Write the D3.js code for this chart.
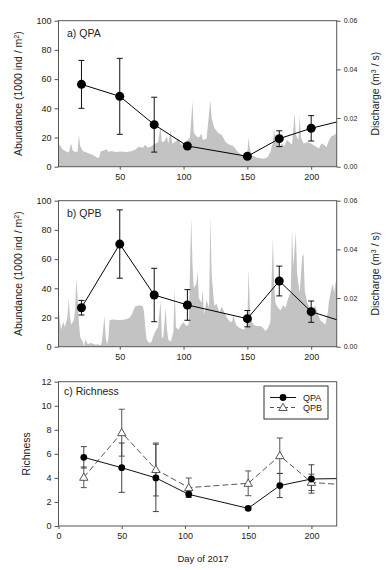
<!DOCTYPE html>
<html>
<head>
<meta charset="utf-8">
<script src="https://cdn.jsdelivr.net/npm/d3@7"></script>
<style>
  body { margin: 0; background: #fff; }
  svg text { font-family: "Liberation Sans", Arial, sans-serif; fill: #222; }
</style>
</head>
<body>
<div id="chart"></div>
<script>
// sampling days (last entry = where the line leaves the plot)
const sampleDays = [20, 50, 77, 103, 150, 175, 200, 220];

// abundance (1000 ind / m2), mean and +/- error
const abundQPA = [56.4, 48.2, 28.8, 14.2, 7.1, 19.2, 26.3, 30.6];
const abundQPAErr = [16.4, 26.0, 18.8, 1.5, 0.8, 5.4, 8.7, null];
const abundQPB = [26.7, 70.3, 35.4, 28.6, 19.2, 45.0, 24.0, 18.5];
const abundQPBErr = [5.0, 23.4, 18.3, 10.5, 5.6, 10.2, 7.3, null];

// richness
const richQPA = [5.71, 4.85, 4.0, 2.63, 1.47, 3.36, 3.91, 3.94];
const richQPAErr = [0.89, 2.05, 2.8, 0.25, 0.15, 1.0, 1.18, null];
const richQPB = [4.05, 7.76, 4.7, 3.19, 3.55, 5.85, 3.63, 3.47];
const richQPBErr = [0.86, 1.95, 2.2, 0.8, 1.03, 1.47, 0.68, null];

// daily discharge (m3/s), [day, value]
const dischargeQPA = [
  [1,0.0080],[3,0.0090],[5,0.0072],[8,0.0062],[10,0.0058],[12,0.0096],[13,0.0068],[15,0.0060],
  [17,0.0062],[18,0.0130],[19,0.0085],[21,0.0065],[24,0.0058],[27,0.0052],[30,0.0045],[33,0.0035],
  [34,0.0040],[35,0.0062],[38,0.0068],[40,0.0072],[41,0.0060],[43,0.0065],[47,0.0060],[51,0.0062],
  [55,0.0060],[59,0.0064],[62,0.0070],[65,0.0082],[68,0.0078],[70,0.0090],[72,0.0078],[75,0.0085],
  [78,0.0095],[80,0.0100],[82,0.0165],[83,0.0100],[85,0.0105],[87,0.0125],[88,0.0095],[90,0.0150],
  [91,0.0095],[93,0.0100],[96,0.0115],[98,0.0090],[100,0.0095],[103,0.0108],[105,0.0120],[107,0.0270],
  [108,0.0140],[110,0.0125],[112,0.0120],[114,0.0135],[115,0.0110],[118,0.0115],[120,0.0220],[121,0.0272],
  [122,0.0200],[124,0.0160],[127,0.0140],[130,0.0130],[133,0.0100],[136,0.0090],[139,0.0085],[142,0.0065],
  [145,0.0050],[148,0.0040],[150,0.0060],[151,0.0120],[152,0.0070],[154,0.0045],[157,0.0038],[160,0.0035],
  [163,0.0033],[166,0.0040],[168,0.0060],[170,0.0100],[171,0.0155],[172,0.0110],[174,0.0120],[175,0.0080],
  [177,0.0095],[179,0.0085],[181,0.0110],[183,0.0100],[185,0.0090],[187,0.0220],[188,0.0130],[190,0.0110],
  [191,0.0210],[192,0.0120],[194,0.0095],[197,0.0100],[200,0.0095],[203,0.0085],[206,0.0075],[208,0.0095],
  [210,0.0090],[212,0.0080],[214,0.0110],[216,0.0125],[218,0.0130],[220,0.0140]
];
const dischargeQPB = [
  [1,0.0175],[2,0.0170],[3,0.0110],[4,0.0070],[5,0.0090],[6,0.0100],[7,0.0080],[9,0.0120],
  [10,0.0200],[11,0.0120],[12,0.0090],[14,0.0110],[15,0.0150],[16,0.0282],[17,0.0200],[18,0.0100],
  [19,0.0040],[21,0.0020],[22,0.0002],[23,0.0030],[25,0.0010],[27,0.0015],[29,0.0012],[31,0.0008],
  [33,0.0010],[35,0.0005],[36,0.0020],[38,0.0125],[39,0.0040],[40,0.0008],[41,0.0030],[42,0.0110],
  [45,0.0112],[48,0.0110],[51,0.0110],[54,0.0112],[56,0.0115],[58,0.0120],[60,0.0140],[62,0.0165],
  [64,0.0168],[66,0.0170],[68,0.0165],[69,0.0145],[70,0.0080],[71,0.0030],[73,0.0015],[75,0.0020],
  [76,0.0040],[78,0.0065],[80,0.0080],[82,0.0190],[83,0.0040],[84,0.0035],[86,0.0160],[87,0.0070],
  [88,0.0030],[90,0.0020],[92,0.0060],[93,0.0240],[94,0.0080],[96,0.0070],[98,0.0090],[100,0.0100],
  [102,0.0085],[104,0.0090],[106,0.0530],[107,0.0340],[108,0.0240],[110,0.0260],[111,0.0310],[112,0.0200],
  [114,0.0180],[115,0.0230],[116,0.0130],[118,0.0190],[120,0.0160],[121,0.0536],[122,0.0300],[124,0.0170],
  [126,0.0175],[128,0.0140],[130,0.0165],[132,0.0140],[134,0.0120],[136,0.0105],[138,0.0100],[139,0.0130],
  [141,0.0090],[143,0.0080],[145,0.0075],[147,0.0070],[149,0.0080],[150,0.0110],[151,0.0320],[152,0.0150],
  [153,0.0110],[155,0.0090],[157,0.0085],[160,0.0085],[162,0.0080],[164,0.0065],[166,0.0075],[168,0.0100],
  [170,0.0447],[171,0.0250],[172,0.0180],[174,0.0160],[176,0.0150],[178,0.0170],[180,0.0160],[182,0.0200],
  [184,0.0220],[185,0.0485],[186,0.0330],[188,0.0470],[189,0.0300],[191,0.0220],[193,0.0370],[194,0.0380],
  [195,0.0230],[197,0.0180],[199,0.0160],[201,0.0140],[203,0.0170],[205,0.0140],[207,0.0110],[209,0.0100],
  [211,0.0090],[213,0.0140],[214,0.0190],[216,0.0240],[217,0.0260],[218,0.0220],[219,0.0260],[220,0.0280]
];

const abundTicks = [0, 20, 40, 60, 80, 100];
const dischargeTicks = [0, 0.02, 0.04, 0.06];
const richTicks = [0, 2, 4, 6, 8, 10, 12];
const dayTicksAB = [50, 100, 150, 200];
const dayTicksC = [0, 50, 100, 150, 200];

// layout
const W = 392, H = 570;
const plotLeft = 58.5, plotRight = 336.7;
const panels = {
  a: { top: 20.7, bottom: 166.7 },
  b: { top: 200.7, bottom: 346.7 },
  c: { top: 381.7, bottom: 526 },
};
const frameColor = "#555";
const areaColor = "#c3c3c3";

const svg = d3.select("#chart").append("svg")
  .attr("width", W).attr("height", H)
  .style("background", "#fff");

const xAB = d3.scaleLinear().domain([2, 220]).range([plotLeft, plotRight]);
const xC = d3.scaleLinear().domain([0, 220]).range([plotLeft, plotRight]);

drawAbundancePanel("a", panels.a, "a) QPA", abundQPA, abundQPAErr, dischargeQPA);
drawAbundancePanel("b", panels.b, "b) QPB", abundQPB, abundQPBErr, dischargeQPB);
drawRichnessPanel(panels.c);

function addClip(id, p) {
  svg.append("clipPath").attr("id", id)
    .append("rect")
    .attr("x", plotLeft).attr("y", p.top)
    .attr("width", plotRight - plotLeft).attr("height", p.bottom - p.top);
}

function styleAxis(g, fontSize) {
  g.select(".domain").remove();
  g.selectAll(".tick line").attr("stroke", frameColor);
  g.selectAll(".tick text").style("font-size", fontSize + "px").attr("fill", "#222");
}

function drawFrame(p) {
  svg.append("rect")
    .attr("x", plotLeft).attr("y", p.top)
    .attr("width", plotRight - plotLeft).attr("height", p.bottom - p.top)
    .attr("fill", "none").attr("stroke", frameColor).attr("stroke-width", 1);
}

function drawErrorBars(g, x, y, values, errs, color) {
  const cap = 3;
  values.forEach((v, i) => {
    if (errs[i] == null) return;
    const cx = x(sampleDays[i]);
    const y1 = y(v + errs[i]), y2 = y(Math.max(0, v - errs[i]));
    g.append("line").attr("x1", cx).attr("x2", cx).attr("y1", y1).attr("y2", y2)
      .attr("stroke", color).attr("stroke-width", 1);
    [y1, y2].forEach((yy) => {
      g.append("line").attr("x1", cx - cap).attr("x2", cx + cap).attr("y1", yy).attr("y2", yy)
        .attr("stroke", color).attr("stroke-width", 1);
    });
  });
}

function drawAbundancePanel(id, p, label, values, errs, discharge) {
  const yLeft = d3.scaleLinear().domain([0, 100]).range([p.bottom, p.top]);
  const yRight = d3.scaleLinear().domain([0, 0.06]).range([p.bottom, p.top]);
  addClip("clip-" + id, p);

  // discharge area
  const area = d3.area()
    .x((d) => xAB(d[0]))
    .y0(p.bottom)
    .y1((d) => yRight(d[1]));
  svg.append("path")
    .datum(discharge)
    .attr("clip-path", `url(#clip-${id})`)
    .attr("fill", areaColor)
    .attr("d", area);

  // axes
  svg.append("g").attr("transform", `translate(${plotLeft},0)`)
    .call(d3.axisLeft(yLeft).tickValues(abundTicks).tickSize(4).tickPadding(3).tickFormat(d3.format("d")))
    .call((g) => styleAxis(g, 9));
  svg.append("g").attr("transform", `translate(${plotRight},0)`)
    .call(d3.axisRight(yRight).tickValues(dischargeTicks).tickSize(4).tickPadding(3).tickFormat(d3.format(".2f")))
    .call((g) => styleAxis(g, 7));
  svg.append("g").attr("transform", `translate(0,${p.bottom})`)
    .call(d3.axisBottom(xAB).tickValues(dayTicksAB).tickSize(3).tickPadding(4))
    .call((g) => styleAxis(g, 9));
  drawFrame(p);

  // abundance line, error bars, markers
  const g = svg.append("g").attr("clip-path", `url(#clip-${id})`);
  const line = d3.line().x((d, i) => xAB(sampleDays[i])).y((d) => yLeft(d));
  g.append("path").datum(values).attr("d", line)
    .attr("fill", "none").attr("stroke", "#000").attr("stroke-width", 1);
  drawErrorBars(svg.append("g"), xAB, yLeft, values, errs, "#111");
  svg.append("g").selectAll("circle")
    .data(values.filter((d, i) => errs[i] != null))
    .join("circle")
    .attr("cx", (d, i) => xAB(sampleDays[i]))
    .attr("cy", (d) => yLeft(d))
    .attr("r", 4.5)
    .attr("fill", "#000");

  // labels
  svg.append("text").attr("x", 67).attr("y", 36.5 + (p.top - 20.7))
    .style("font-size", "10.5px").text(label);

  const midY = (p.top + p.bottom) / 2;
  const leftLabel = svg.append("text")
    .attr("transform", `translate(22,${midY}) rotate(-90)`)
    .attr("text-anchor", "middle")
    .style("font-size", "10.5px");
  leftLabel.append("tspan").text("Abundance (1000 ind / m");
  leftLabel.append("tspan").attr("baseline-shift", "super").style("font-size", "7px").text("2");
  leftLabel.append("tspan").text(")");

  const rightLabel = svg.append("text")
    .attr("transform", `translate(379,${midY}) rotate(-90)`)
    .attr("text-anchor", "middle")
    .style("font-size", "10.5px");
  rightLabel.append("tspan").text("Discharge (m");
  rightLabel.append("tspan").attr("baseline-shift", "super").style("font-size", "7px").text("3");
  rightLabel.append("tspan").text(" / s)");
}

function drawRichnessPanel(p) {
  const y = d3.scaleLinear().domain([0, 12]).range([p.bottom, p.top]);
  addClip("clip-c", p);

  svg.append("g").attr("transform", `translate(${plotLeft},0)`)
    .call(d3.axisLeft(y).tickValues(richTicks).tickSize(4).tickPadding(3))
    .call((g) => styleAxis(g, 9));
  svg.append("g").attr("transform", `translate(0,${p.bottom})`)
    .call(d3.axisBottom(xC).tickValues(dayTicksC).tickSize(3).tickPadding(4))
    .call((g) => styleAxis(g, 9));
  drawFrame(p);

  const g = svg.append("g").attr("clip-path", "url(#clip-c)");
  const line = d3.line().x((d, i) => xC(sampleDays[i])).y((d) => y(d));

  // QPB dashed + open triangles
  g.append("path").datum(richQPB).attr("d", line)
    .attr("fill", "none").attr("stroke", "#555").attr("stroke-width", 1)
    .attr("stroke-dasharray", "6,3");
  // QPA solid + filled circles
  g.append("path").datum(richQPA).attr("d", line)
    .attr("fill", "none").attr("stroke", "#111").attr("stroke-width", 1);

  drawErrorBars(svg.append("g"), xC, y, richQPB, richQPBErr, "#555");
  drawErrorBars(svg.append("g"), xC, y, richQPA, richQPAErr, "#444");

  const tri = d3.symbol().type(d3.symbolTriangle).size(30);
  svg.append("g").selectAll("path")
    .data(richQPB.filter((d, i) => richQPBErr[i] != null))
    .join("path")
    .attr("d", tri)
    .attr("transform", (d, i) => `translate(${xC(sampleDays[i])},${y(d) + 0.6})`)
    .attr("fill", "#fff").attr("stroke", "#444").attr("stroke-width", 0.9);
  svg.append("g").selectAll("circle")
    .data(richQPA.filter((d, i) => richQPAErr[i] != null))
    .join("circle")
    .attr("cx", (d, i) => xC(sampleDays[i]))
    .attr("cy", (d) => y(d))
    .attr("r", 3.4)
    .attr("fill", "#000");

  // legend
  const lg = svg.append("g").attr("transform", "translate(264,386)");
  lg.append("rect").attr("width", 64).attr("height", 33)
    .attr("fill", "#fff").attr("stroke", "#333").attr("stroke-width", 1);
  const rows = [
    { name: "QPA", dash: null, color: "#111" },
    { name: "QPB", dash: "4,3", color: "#555" },
  ];
  rows.forEach((r, i) => {
    const ry = 11.5 + i * 10;
    lg.append("line").attr("x1", 6).attr("x2", 32).attr("y1", ry).attr("y2", ry)
      .attr("stroke", r.color).attr("stroke-width", 1)
      .attr("stroke-dasharray", r.dash);
    if (i === 0) {
      lg.append("circle").attr("cx", 19).attr("cy", ry).attr("r", 3.4).attr("fill", "#000");
    } else {
      lg.append("path").attr("d", tri).attr("transform", `translate(19,${ry + 0.6})`)
        .attr("fill", "#fff").attr("stroke", "#444").attr("stroke-width", 0.9);
    }
    lg.append("text").attr("x", 39).attr("y", ry + 3.3)
      .style("font-size", "9px").text(r.name);
  });

  svg.append("text").attr("x", 64).attr("y", 394.5)
    .style("font-size", "10.5px").text("c) Richness");
  svg.append("text")
    .attr("transform", `translate(30,${(p.top + p.bottom) / 2}) rotate(-90)`)
    .attr("text-anchor", "middle").style("font-size", "10.5px").text("Richness");
  svg.append("text").attr("x", 203).attr("y", 562)
    .attr("text-anchor", "middle").style("font-size", "9.5px").text("Day of 2017");
}
</script>
</body>
</html>
